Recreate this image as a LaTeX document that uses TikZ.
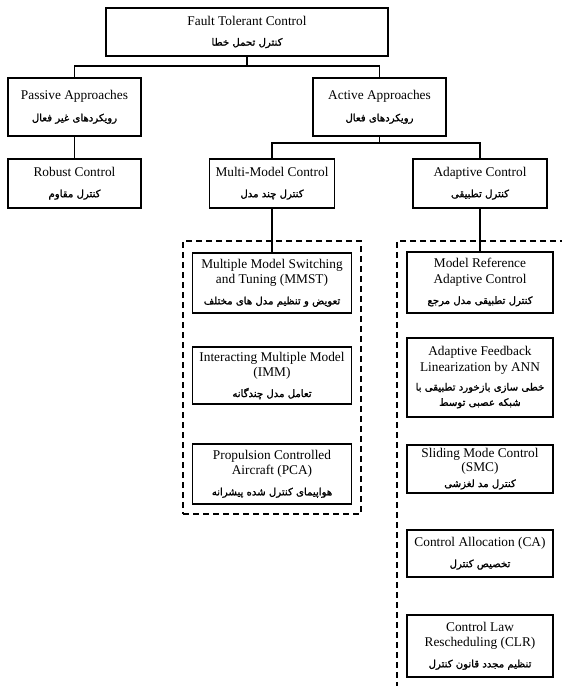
\documentclass[tikz,border=0pt]{standalone}
\usepackage{fontspec}
\setmainfont{Liberation Serif}
\newfontfamily\farsi[Script=Arabic,FakeBold=1.5]{DejaVu Sans}
\TeXXeTstate=1
% one right-to-left Persian line
\newcommand\fa[1]{{\farsi\fontsize{7.6}{11}\selectfont\beginR #1\endR}}

\tikzset{
  sz/.style 2 args={minimum width=#1*0.75pt, minimum height=#2*0.75pt},
  box/.style={draw, line width=0.8pt, align=center, inner sep=1pt,
              font=\fontsize{10}{11.5}\selectfont},
  tight/.style={font=\fontsize{10}{10.5}\selectfont},
  link/.style={line width=0.8pt},
  group/.style={line width=0.8pt, dash pattern=on 4.5pt off 3pt},
}

\begin{document}
\begin{tikzpicture}[x=0.75pt,y=-0.75pt]
\useasboundingbox (0,0) rectangle (561,686);

% top level
\node[box, sz={282}{48}] (ftc) at (247,32)
  {Fault Tolerant Control\\[4pt]\fa{کنترل تحمل خطا}};

% approaches
\node[box, sz={133}{58}] (passive) at (74.5,107)
  {Passive Approaches\\[5pt]\fa{رویکردهای غیر فعال}};
\node[box, sz={133}{58}] (active) at (379.5,107)
  {Active Approaches\\[5pt]\fa{رویکردهای فعال}};

% families
\node[box, sz={133}{49}] (robust) at (74.5,183.5)
  {Robust Control\\[4pt]\fa{کنترل مقاوم}};
\node[box, sz={125}{49}] (multi) at (272,183.5)
  {Multi-Model Control\\[4pt]\fa{کنترل چند مدل}};
\node[box, sz={134}{49}] (adaptive) at (480,183.5)
  {Adaptive Control\\[4pt]\fa{کنترل تطبیقی}};

% multi-model methods
\node[group, draw, sz={178}{273}] (mmgroup) at (272,377.5) {};
\node[box, sz={159}{60}] (mmst) at (272,283)
  {Multiple Model Switching\\and Tuning (MMST)\\[4pt]\fa{تعویض و تنظیم مدل های مختلف}};
\node[box, sz={159}{57}] (imm) at (272,375.5)
  {Interacting Multiple Model\\(IMM)\\[4pt]\fa{تعامل مدل چندگانه}};
\node[box, sz={159}{60}] (pca) at (272,474)
  {Propulsion Controlled\\Aircraft (PCA)\\[4pt]\fa{هواپیمای کنترل شده پیشرانه}};

% adaptive methods
\coordinate (agtop) at (566,241);
\coordinate (agbot) at (397,692);
\draw[group] (agtop) -| (agbot);
\node[box, sz={146}{61}] (mrac) at (480,282.5)
  {Model Reference\\Adaptive Control\\[4pt]\fa{کنترل تطبیقی مدل مرجع}};
\node[box, sz={146}{79}] (afl) at (480,377.5)
  {Adaptive Feedback\\Linearization by ANN\\[3pt]\fa{خطی سازی بازخورد تطبیقی با}\\\fa{شبکه عصبی توسط}};
\node[box, tight, sz={146}{48}] (smc) at (480,469)
  {Sliding Mode Control\\(SMC)\\[1pt]\fa{کنترل مد لغزشی}};
\node[box, sz={146}{47}] (ca) at (480,553.5)
  {Control Allocation (CA)\\[4pt]\fa{تخصیص کنترل}};
\node[box, sz={146}{62}] (clr) at (480,646)
  {Control Law\\Rescheduling (CLR)\\[4pt]\fa{تنظیم مجدد قانون کنترل}};

% connectors
\coordinate (j1) at (247,66);
\draw[link] (ftc.south) -- (j1);
\draw[link] (passive.north) |- (j1) -| (active.north);
\coordinate (j2) at (379.5,143);
\draw[link] (active.south) -- (j2);
\draw[link] (multi.north) |- (j2) -| (adaptive.north);
\draw[link] (passive.south) -- (robust.north);
\draw[link] (multi.south) -- (mmst.north);
\draw[link] (adaptive.south) -- (mrac.north);
\end{tikzpicture}
\end{document}
